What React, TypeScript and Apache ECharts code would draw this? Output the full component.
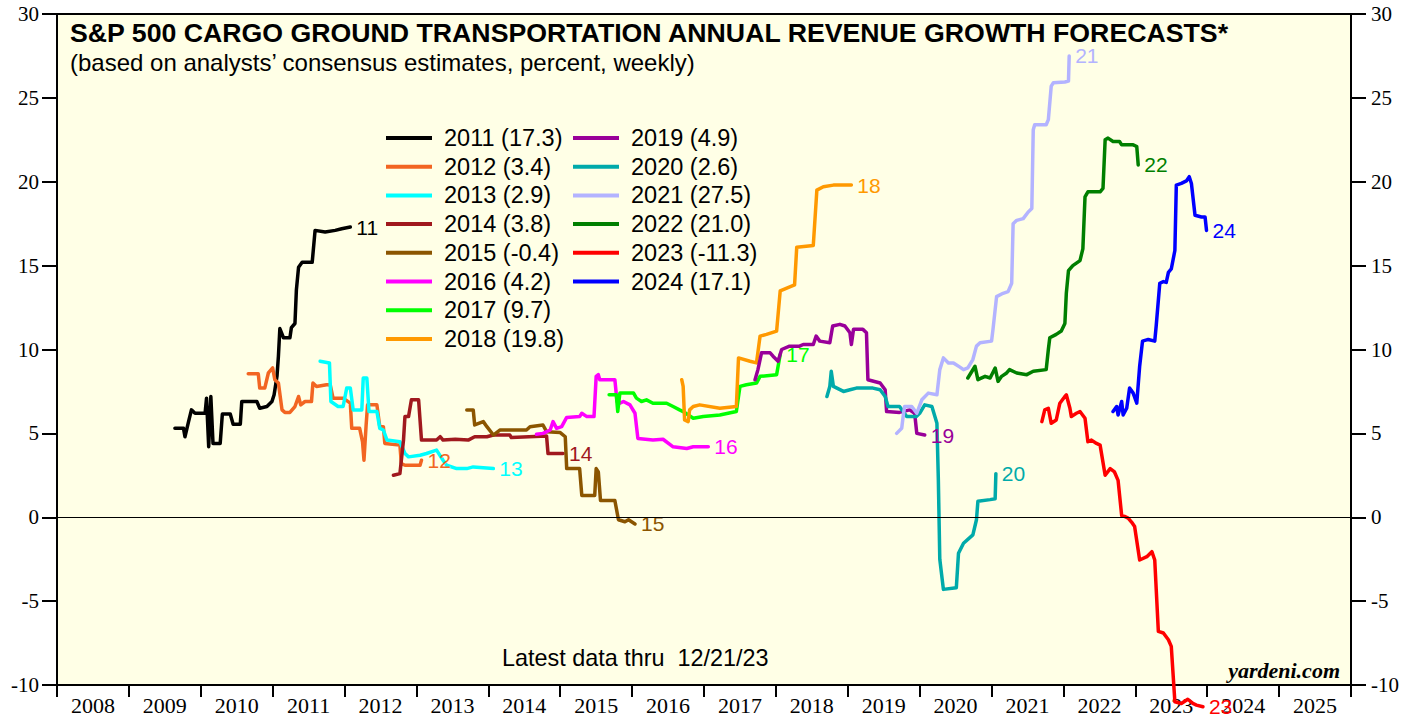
import React, { useEffect, useRef } from "react";
import * as echarts from "echarts";

const xYears = ["2008","2009","2010","2011","2012","2013","2014","2015","2016","2017","2018","2019","2020","2021","2022","2023","2024","2025"];
const seriesNames = ["2011","2012","2013","2014","2015","2016","2017","2018","2019","2020","2021","2022","2023","2024"];
const seriesColors = ["#000000","#F26522","#00FFFF","#A0191E","#8B5500","#FF00FF","#00FF00","#FF9900","#990099","#00AAAA","#B3B3FF","#007F00","#FF0000","#0000FF"];

const s2011 = [[2009.64,5.3],[2009.76,5.3],[2009.78,4.8],[2009.83,5.7],[2009.87,6.4],[2009.92,6.2],[2010.06,6.2],[2010.08,7.1],[2010.11,4.2],[2010.14,7.2],[2010.17,4.4],[2010.27,4.4],[2010.30,6.15],[2010.41,6.15],[2010.45,5.55],[2010.55,5.55],[2010.57,6.9],[2010.78,6.9],[2010.82,6.5],[2010.92,6.6],[2010.99,6.9],[2011.02,7.3],[2011.06,8.4],[2011.08,9.6],[2011.10,11.25],[2011.15,10.7],[2011.24,10.7],[2011.26,11.3],[2011.31,11.55],[2011.33,13.55],[2011.36,14.9],[2011.41,15.2],[2011.55,15.2],[2011.59,17.1],[2011.73,17.0],[2011.87,17.1],[2011.96,17.2],[2012.08,17.3]];
const s2012 = [[2010.66,8.55],[2010.80,8.55],[2010.82,7.7],[2010.89,7.7],[2010.94,8.6],[2011.00,8.9],[2011.03,8.2],[2011.08,8.0],[2011.13,6.4],[2011.17,6.25],[2011.24,6.25],[2011.31,6.6],[2011.36,7.2],[2011.39,6.7],[2011.45,6.9],[2011.54,6.9],[2011.56,8.0],[2011.61,7.8],[2011.75,7.9],[2011.80,7.9],[2011.84,7.1],[2011.98,7.1],[2012.08,6.8],[2012.10,5.3],[2012.21,5.3],[2012.25,4.5],[2012.27,3.4],[2012.30,5.5],[2012.32,6.7],[2012.45,6.7],[2012.49,5.4],[2012.54,5.4],[2012.56,4.4],[2012.77,4.3],[2012.79,3.2],[2012.84,3.1],[2013.05,3.1],[2013.07,3.4]];
const s2013 = [[2011.66,9.3],[2011.79,9.2],[2011.81,6.9],[2011.91,6.6],[2011.98,6.6],[2012.03,7.7],[2012.08,7.7],[2012.12,6.4],[2012.24,6.4],[2012.26,8.3],[2012.31,8.3],[2012.34,6.3],[2012.45,6.3],[2012.49,5.3],[2012.54,5.2],[2012.59,4.6],[2012.77,4.5],[2012.84,3.8],[2012.89,3.6],[2013.05,3.7],[2013.14,3.8],[2013.28,4.0],[2013.37,3.4],[2013.42,3.1],[2013.56,2.9],[2013.70,2.9],[2013.79,3.0],[2014.07,2.9]];
const s2014 = [[2012.68,2.5],[2012.77,2.6],[2012.82,4.6],[2012.84,6.0],[2012.89,6.0],[2012.93,7.0],[2013.03,7.0],[2013.07,4.6],[2013.28,4.6],[2013.33,4.8],[2013.37,4.6],[2013.54,4.65],[2013.72,4.6],[2013.81,4.8],[2013.98,4.8],[2014.07,4.9],[2014.30,4.9],[2014.32,4.75],[2014.81,4.85],[2014.83,3.8],[2015.04,3.8]];
const s2015 = [[2013.70,6.4],[2013.79,6.4],[2013.81,5.5],[2013.93,5.7],[2013.98,5.4],[2014.07,4.9],[2014.16,5.2],[2014.53,5.2],[2014.58,5.4],[2014.76,5.5],[2014.81,5.1],[2015.00,5.05],[2015.07,4.8],[2015.09,2.9],[2015.27,2.9],[2015.30,1.3],[2015.48,1.3],[2015.50,2.9],[2015.53,2.7],[2015.56,1.0],[2015.76,1.0],[2015.81,-0.15],[2015.90,-0.27],[2015.95,-0.15],[2016.04,-0.4]];
const s2016 = [[2014.67,4.95],[2014.76,5.0],[2014.86,5.2],[2014.90,5.7],[2014.95,5.3],[2015.02,5.4],[2015.09,5.95],[2015.27,6.0],[2015.30,6.2],[2015.37,6.0],[2015.47,6.0],[2015.50,8.4],[2015.53,8.5],[2015.55,8.2],[2015.76,8.2],[2015.79,6.9],[2015.83,6.8],[2015.88,6.9],[2015.97,6.7],[2016.04,6.2],[2016.08,4.7],[2016.29,4.6],[2016.43,4.65],[2016.57,4.2],[2016.76,4.1],[2016.85,4.2],[2017.06,4.2]];
const s2017 = [[2015.68,7.3],[2015.78,7.3],[2015.80,6.3],[2015.83,7.4],[2016.02,7.4],[2016.06,7.1],[2016.13,6.9],[2016.20,7.0],[2016.29,6.8],[2016.48,6.8],[2016.57,6.6],[2016.66,6.4],[2016.71,6.3],[2016.85,5.9],[2016.99,6.0],[2017.22,6.1],[2017.45,6.3],[2017.50,7.8],[2017.59,7.9],[2017.73,8.0],[2017.78,8.4],[2018.01,8.5],[2018.06,9.7]];
const s2018 = [[2016.69,8.2],[2016.71,7.8],[2016.73,5.8],[2016.78,5.7],[2016.80,6.4],[2016.85,6.6],[2016.94,6.7],[2017.22,6.5],[2017.45,6.6],[2017.48,9.5],[2017.64,9.3],[2017.73,9.2],[2017.78,10.8],[2017.87,10.9],[2018.01,11.1],[2018.06,13.5],[2018.26,13.85],[2018.29,16.1],[2018.52,16.2],[2018.57,19.5],[2018.66,19.7],[2018.80,19.8],[2018.94,19.8],[2019.05,19.8]];
const s2019 = [[2017.71,8.2],[2017.75,8.8],[2017.80,9.8],[2017.92,9.8],[2017.96,9.6],[2018.03,9.3],[2018.08,10.0],[2018.19,10.2],[2018.33,10.2],[2018.38,10.3],[2018.52,10.3],[2018.56,10.8],[2018.61,10.5],[2018.75,10.4],[2018.79,11.4],[2018.89,11.5],[2018.96,11.4],[2019.03,11.0],[2019.05,10.3],[2019.08,11.2],[2019.21,11.2],[2019.26,11.0],[2019.28,8.2],[2019.45,8.0],[2019.52,7.6],[2019.54,6.3],[2019.72,6.25],[2019.86,6.4],[2019.93,6.2],[2019.96,5.0],[2020.07,4.9]];
const s2020 = [[2018.71,7.2],[2018.75,7.8],[2018.77,8.7],[2018.80,7.8],[2018.94,7.5],[2019.03,7.6],[2019.12,7.7],[2019.35,7.7],[2019.45,7.6],[2019.52,7.2],[2019.56,6.6],[2019.72,6.6],[2019.82,6.0],[2019.95,6.0],[2020.00,6.2],[2020.07,6.7],[2020.17,6.6],[2020.24,5.6],[2020.26,2.2],[2020.28,-2.5],[2020.33,-4.3],[2020.51,-4.2],[2020.54,-2.15],[2020.61,-1.55],[2020.74,-1.05],[2020.79,-0.15],[2020.81,0.95],[2020.98,1.05],[2021.05,1.1],[2021.06,2.6]];
const s2021 = [[2019.68,5.0],[2019.75,5.3],[2019.77,6.0],[2019.79,6.6],[2019.89,6.6],[2019.96,6.2],[2020.03,7.0],[2020.12,7.4],[2020.24,7.3],[2020.28,8.8],[2020.33,9.5],[2020.40,9.2],[2020.47,9.2],[2020.56,8.95],[2020.61,8.8],[2020.67,8.9],[2020.74,9.4],[2020.79,10.2],[2020.84,10.4],[2021.00,10.5],[2021.02,11.2],[2021.07,13.15],[2021.16,13.35],[2021.23,13.45],[2021.28,13.95],[2021.30,17.5],[2021.35,17.7],[2021.44,17.8],[2021.51,18.2],[2021.56,18.4],[2021.58,23.1],[2021.60,23.4],[2021.76,23.4],[2021.79,23.7],[2021.83,25.7],[2021.86,25.9],[2022.02,25.95],[2022.07,26.0],[2022.08,27.5]];
const s2022 = [[2020.67,8.3],[2020.77,9.0],[2020.81,8.2],[2020.91,8.4],[2020.98,8.3],[2021.05,8.9],[2021.09,8.1],[2021.14,8.4],[2021.21,8.6],[2021.25,8.8],[2021.35,8.6],[2021.49,8.5],[2021.58,8.7],[2021.76,8.8],[2021.79,10.0],[2021.81,10.7],[2021.90,10.9],[2021.97,11.1],[2022.02,11.55],[2022.04,13.35],[2022.07,14.7],[2022.13,15.0],[2022.23,15.3],[2022.27,16.0],[2022.30,19.1],[2022.34,19.4],[2022.51,19.4],[2022.55,19.6],[2022.58,22.5],[2022.62,22.6],[2022.69,22.4],[2022.78,22.4],[2022.81,22.2],[2022.97,22.2],[2023.02,22.1],[2023.04,21.0]];
const s2023 = [[2021.70,5.7],[2021.74,6.4],[2021.79,6.5],[2021.83,5.6],[2021.90,5.8],[2021.95,6.8],[2022.02,7.2],[2022.04,7.3],[2022.09,6.5],[2022.11,6.0],[2022.18,6.2],[2022.23,6.3],[2022.30,5.9],[2022.34,4.5],[2022.39,4.6],[2022.46,4.4],[2022.51,4.3],[2022.58,2.5],[2022.65,2.9],[2022.71,2.7],[2022.76,2.2],[2022.81,0.1],[2022.85,0.05],[2022.90,-0.05],[2022.95,-0.3],[2022.99,-0.55],[2023.06,-2.55],[2023.16,-2.35],[2023.23,-2.05],[2023.27,-2.55],[2023.32,-6.8],[2023.39,-6.9],[2023.46,-7.3],[2023.50,-7.7],[2023.55,-11.0],[2023.64,-11.1],[2023.73,-10.85],[2023.80,-11.1],[2023.85,-11.2],[2023.94,-11.3]];
const s2024 = [[2022.69,6.3],[2022.74,6.6],[2022.76,6.1],[2022.81,6.9],[2022.83,6.1],[2022.88,6.5],[2022.92,7.7],[2022.97,7.4],[2023.02,6.8],[2023.06,9.0],[2023.10,10.5],[2023.18,10.6],[2023.27,10.5],[2023.29,11.4],[2023.34,13.95],[2023.39,14.05],[2023.43,14.0],[2023.46,14.6],[2023.50,14.8],[2023.55,15.9],[2023.57,19.8],[2023.64,19.9],[2023.71,20.05],[2023.75,20.3],[2023.78,19.9],[2023.83,18.0],[2023.92,17.9],[2023.97,17.9],[2023.99,17.1]];

const seriesData = [s2011, s2012, s2013, s2014, s2015, s2016, s2017, s2018, s2019, s2020, s2021, s2022, s2023, s2024];

const SANS = '"Liberation Sans", Arial, sans-serif';
const SERIF = '"Liberation Serif", "Times New Roman", serif';

export default function App() {
  const ref = useRef<HTMLDivElement>(null);
  useEffect(() => {
    const chart = echarts.init(ref.current!, null, { renderer: "svg" });
    const finals = seriesData.map((d) => d[d.length - 1][1]);
    const legendFmt = (name: string) => {
      const i = seriesNames.indexOf(name);
      return `${name} (${finals[i].toFixed(1)})`;
    };
    const legendBase = {
      orient: "vertical",
      top: 126,
      padding: 0,
      icon: "rect",
      itemWidth: 46,
      itemHeight: 4,
      itemGap: 4.7,
      selectedMode: false,
      formatter: legendFmt,
      textStyle: { fontSize: 23.5, fontFamily: SANS, color: "#000", lineHeight: 24, padding: [0, 0, 0, 7] },
    };
    const axisTickStyle = { color: "#000", width: 2 };
    chart.setOption({
      animation: false,
      backgroundColor: "#ffffff",
      grid: { left: 57, right: 66, top: 14, bottom: 34, show: true, backgroundColor: "#FFFFE6", borderColor: "#000", borderWidth: 2 },
      xAxis: [
        {
          type: "value", min: 2008, max: 2026, interval: 1, position: "bottom",
          axisLine: { show: false, onZero: false },
          axisTick: { show: true, length: 12, lineStyle: axisTickStyle },
          axisLabel: { show: false },
          splitLine: { show: false },
        },
        {
          type: "category", data: xYears, position: "bottom", boundaryGap: true,
          axisLine: { show: false, onZero: false }, axisTick: { show: false }, splitLine: { show: false },
          axisLabel: { interval: 0, fontFamily: SERIF, fontSize: 22, color: "#000", margin: 9 },
        },
      ],
      yAxis: [
        {
          type: "value", min: -10, max: 30, interval: 5, position: "left",
          axisLine: { show: false, onZero: false },
          axisTick: { show: true, length: 15, lineStyle: axisTickStyle },
          axisLabel: { fontFamily: SERIF, fontSize: 21, color: "#000", margin: 18 },
          splitLine: { show: false },
        },
        {
          type: "value", min: -10, max: 30, interval: 5, position: "right",
          axisLine: { show: false, onZero: false },
          axisTick: { show: true, length: 15, lineStyle: axisTickStyle },
          axisLabel: { fontFamily: SERIF, fontSize: 21, color: "#000", margin: 20 },
          splitLine: { show: false },
        },
      ],
      legend: [
        { ...legendBase, left: 386, data: seriesNames.slice(0, 8) },
        { ...legendBase, left: 573, data: seriesNames.slice(8) },
      ],
      graphic: [
        { type: "text", x: 70, y: 33, style: { text: "S&P 500 CARGO GROUND TRANSPORTATION ANNUAL REVENUE GROWTH FORECASTS*", font: `bold 26.7px ${SANS}`, fill: "#000", verticalAlign: "middle" } },
        { type: "text", x: 70, y: 62, style: { text: "(based on analysts\u2019 consensus estimates, percent, weekly)", font: `24px ${SANS}`, fill: "#000", verticalAlign: "middle" } },
        { type: "text", x: 502, y: 658, style: { text: "Latest data thru  12/21/23", font: `23.4px ${SANS}`, fill: "#000", verticalAlign: "middle" } },
        { type: "text", x: 1340, y: 670, style: { text: "yardeni.com", font: `italic bold 22px ${SERIF}`, fill: "#000", align: "right", verticalAlign: "middle" } },
      ],
      series: seriesNames.map((name, i) => ({
        name,
        type: "line",
        data: seriesData[i],
        xAxisIndex: 0,
        yAxisIndex: 0,
        showSymbol: false,
        symbol: "none",
        clip: false,
        color: seriesColors[i],
        lineStyle: { width: 3.5, color: seriesColors[i], cap: "round", join: "round" },
        emphasis: { disabled: true },
        endLabel: { show: true, formatter: name.slice(2), color: seriesColors[i], fontSize: 21, fontFamily: SANS, distance: 6 },
        markLine: i === 0 ? {
          silent: true, symbol: ["none", "none"], label: { show: false },
          lineStyle: { color: "#000", width: 1, type: "solid" },
          data: [{ yAxis: 0 }],
        } : undefined,
      })),
    });
    return () => chart.dispose();
  }, []);
  return <div ref={ref} style={{ position: "absolute", left: 0, top: 0, width: 1417, height: 719 }} />;
}
